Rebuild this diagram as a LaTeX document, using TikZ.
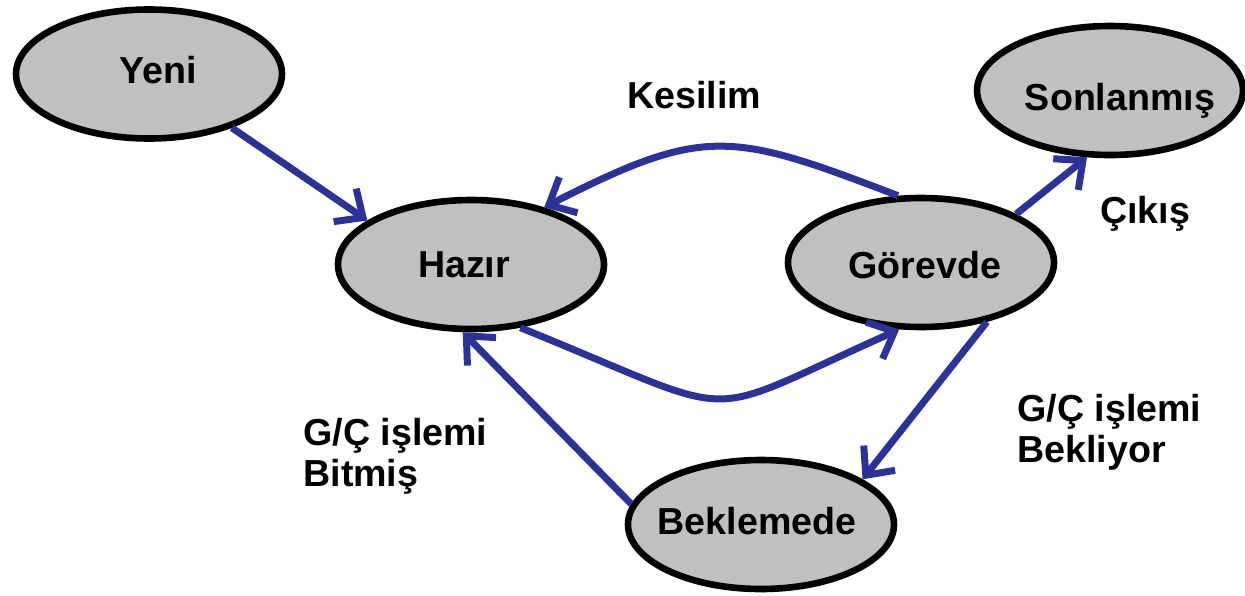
\documentclass[tikz,border=0pt]{standalone}
\usepackage{fontspec}
\setmainfont{Liberation Sans}
\usetikzlibrary{arrows.meta,shapes.geometric}
\definecolor{flow}{RGB}{44,50,150}
\definecolor{statefill}{RGB}{192,192,192}
\begin{document}
\begin{tikzpicture}[x=0.5pt,y=0.5pt,
  state/.style={ellipse, draw=black, line width=3.3pt, fill=statefill,
    minimum width=133pt, minimum height=64.5pt, inner sep=0pt},
  lbl/.style={font=\fontsize{18.8}{20.5}\selectfont\bfseries, inner sep=0pt},
  edge/.style={draw=flow, line width=3.5pt,
    -{Straight Barb[length=11pt,width=20pt]}}]
\useasboundingbox (0,0) rectangle (1245,-595);

% process states
\node[state] (yeni)      at (149,-74)    {};
\node[state] (hazir)     at (471,-264.5) {};
\node[state] (gorevde)   at (921,-262.5) {};
\node[state] (sonlanmis) at (1110,-90.5) {};
\node[state] (beklemede) at (761,-524.5) {};

% state names
\node[lbl, anchor=base] (tyeni)      at (158,-83)   {Yeni};
\node[lbl, anchor=base] (thazir)     at (464,-277)  {Hazır};
\node[lbl, anchor=base] (tgorevde)   at (925,-278)  {Görevde};
\node[lbl, anchor=base] (tsonlanmis) at (1120,-110) {Sonlanmış};
\node[lbl, anchor=base] (tbeklemede) at (757,-534)  {Beklemede};

% transition names (multi-line ones are placed by their last baseline)
\node[lbl, anchor=base] (tkesilim) at (694,-108)  {Kesilim};
\node[lbl, anchor=base] (tcikis)   at (1145,-223) {Çıkış};
\node[lbl, anchor=base west, align=left] (tbekliyor) at (1017,-462)
  {G/Ç işlemi\\Bekliyor};
\node[lbl, anchor=base west, align=left] (tbitmis) at (303,-486)
  {G/Ç işlemi\\Bitmiş};

% transitions
\draw[edge] (yeni.-33) -- (hazir.157);
\draw[edge] (gorevde.109) .. controls +(159:180) and +(27:180) .. (hazir.38.5);
\draw[edge] (hazir.-52) .. controls +(-22:250) and +(204:228) .. (gorevde.-108);
\draw[edge] (gorevde.27) -- (sonlanmis.-109.4);
\draw[edge] (gorevde.-42.8) -- (beklemede.24.1);
\draw[edge] (beklemede.171.2) -- (hazir.-97.6);
\end{tikzpicture}
\end{document}
